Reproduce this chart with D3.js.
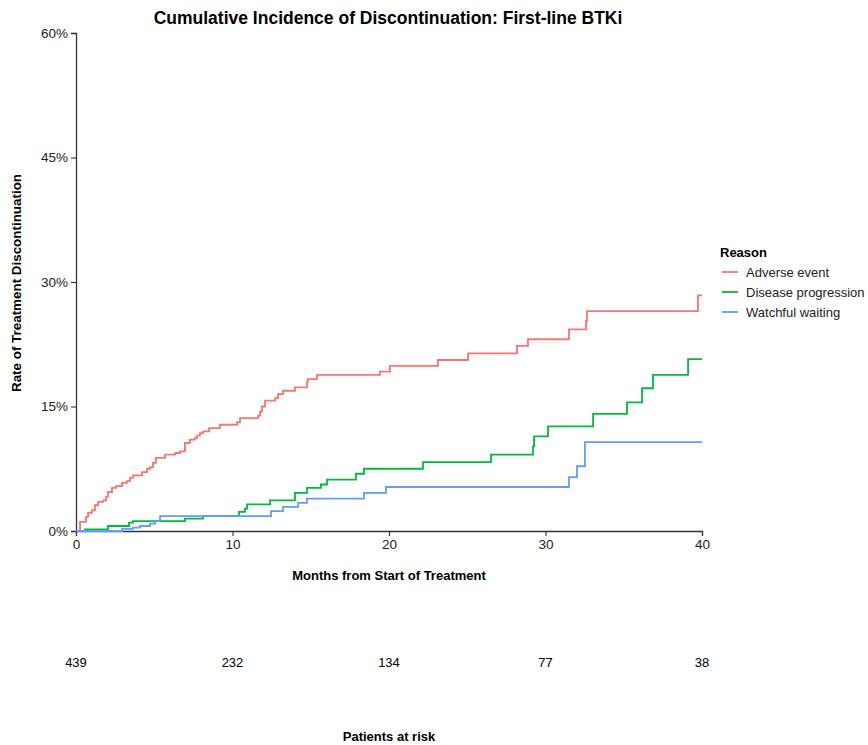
<!DOCTYPE html>
<html>
<head>
<meta charset="utf-8">
<script src="https://cdn.jsdelivr.net/npm/d3@7"></script>
<style>
  html, body { margin: 0; padding: 0; background: #fff; }
  svg { display: block; font-family: "Liberation Sans", Arial, sans-serif; }
</style>
</head>
<body>
<svg id="chart" width="868" height="745"></svg>
<script>
// ---------- data ----------
const chartTitle = "Cumulative Incidence of Discontinuation: First-line BTKi";
const reasons = ["Adverse event", "Disease progression", "Watchful waiting"];
const colors = ["#F8766D", "#00BA38", "#619CFF"];

const adverseMonths = [0, 0.26, 0.64, 0.77, 1.02, 1.21, 1.41, 1.73, 1.92, 2.04, 2.30, 2.56, 2.94, 3.26, 3.45, 3.64, 4.22, 4.54, 4.73, 4.92, 5.11, 5.69, 6.33, 6.65, 6.96, 7.28, 7.60, 7.73, 7.92, 8.12, 8.50, 9.20, 10.29, 10.48, 11.63, 11.76, 11.88, 12.08, 12.72, 12.91, 13.23, 13.99, 14.76, 14.82, 15.40, 19.42, 20.06, 23.13, 25.05, 28.18, 28.88, 31.50, 32.59, 32.65, 39.74, 40];
const adversePct = [0, 1.1, 1.7, 2.2, 2.5, 3.1, 3.5, 3.7, 4.1, 4.7, 5.2, 5.4, 5.8, 6.0, 6.4, 6.7, 7.1, 7.5, 7.7, 8.2, 8.8, 9.2, 9.4, 9.6, 10.6, 11.0, 11.2, 11.5, 11.8, 12.0, 12.4, 12.8, 13.1, 13.6, 13.9, 14.4, 15.0, 15.7, 16.0, 16.5, 16.9, 17.3, 18.0, 18.3, 18.8, 19.2, 19.9, 20.6, 21.4, 22.3, 23.1, 24.3, 25.3, 26.5, 28.4, 28.4];

const progressionMonths = [0, 0.58, 2.04, 3.39, 3.64, 6.96, 8.12, 10.42, 10.80, 10.93, 12.40, 13.99, 14.76, 15.65, 16.04, 17.89, 18.40, 22.17, 26.52, 29.20, 29.27, 30.16, 33.04, 35.21, 36.17, 36.87, 39.11, 40];
const progressionPct = [0, 0.2, 0.6, 1.0, 1.2, 1.5, 1.8, 2.3, 2.7, 3.2, 3.7, 4.6, 5.2, 5.6, 6.2, 6.9, 7.5, 8.3, 9.2, 10.2, 11.4, 12.6, 14.1, 15.5, 17.2, 18.8, 20.7, 20.7];

const waitingMonths = [0, 2.94, 3.64, 4.09, 4.73, 5.05, 5.37, 12.46, 13.23, 14.19, 14.76, 18.40, 19.81, 31.50, 32.01, 32.52, 40];
const waitingPct = [0, 0.25, 0.4, 0.6, 0.9, 1.2, 1.8, 2.4, 2.9, 3.4, 3.9, 4.6, 5.3, 6.5, 7.8, 10.7, 10.7];

const xTicks = [0, 10, 20, 30, 40];
const yTicks = [0, 15, 30, 45, 60];
const riskMonths = [0, 10, 20, 30, 40];
const riskCounts = [439, 232, 134, 77, 38];

// ---------- layout ----------
const svg = d3.select("#chart");
const plotLeft = 76, plotRight = 702, plotTop = 33, plotBottom = 531;

const x = d3.scaleLinear().domain([0, 40]).range([plotLeft, plotRight]);
const y = d3.scaleLinear().domain([0, 60]).range([plotBottom, plotTop]);

// title
svg.append("text")
  .attr("x", (plotLeft + plotRight) / 2 - 1).attr("y", 24)
  .attr("text-anchor", "middle")
  .attr("font-size", 17.5).attr("font-weight", "bold")
  .attr("fill", "#000")
  .text(chartTitle);

// axes
const yAxis = svg.append("g")
  .attr("transform", `translate(${plotLeft},0)`)
  .call(d3.axisLeft(y).tickValues(yTicks).tickFormat(d => d + "%").tickSize(5).tickPadding(3));
const xAxis = svg.append("g")
  .attr("transform", `translate(0,${plotBottom})`)
  .call(d3.axisBottom(x).tickValues(xTicks).tickSize(5).tickPadding(3));

[yAxis, xAxis].forEach(g => {
  g.select(".domain").attr("stroke", "#333").attr("stroke-width", 1.3);
  g.selectAll(".tick line").attr("stroke", "#333").attr("stroke-width", 1.1);
  g.selectAll(".tick text").attr("fill", "#222").attr("font-size", 13.5)
    .attr("font-family", "'Liberation Sans', Arial, sans-serif");
});

// curves
const series = [
  { months: adverseMonths, pct: adversePct },
  { months: progressionMonths, pct: progressionPct },
  { months: waitingMonths, pct: waitingPct }
];
const line = d3.line()
  .x(d => x(d[0])).y(d => y(d[1]))
  .curve(d3.curveStepAfter);

series.forEach((s, i) => {
  const pts = s.months.map((m, j) => [m, s.pct[j]]);
  svg.append("path")
    .datum(pts)
    .attr("fill", "none")
    .attr("stroke", colors[i])
    .attr("stroke-width", 1.8)
    .attr("d", line);
});

// axis titles
svg.append("text")
  .attr("x", (plotLeft + plotRight) / 2).attr("y", 580)
  .attr("text-anchor", "middle")
  .attr("font-size", 13).attr("font-weight", "bold")
  .text("Months from Start of Treatment");

svg.append("text")
  .attr("transform", `translate(21,${(plotTop + plotBottom) / 2 + 1}) rotate(-90)`)
  .attr("text-anchor", "middle")
  .attr("font-size", 13.4).attr("font-weight", "bold")
  .text("Rate of Treatment Discontinuation");

// legend
const lg = svg.append("g");
lg.append("text")
  .attr("x", 720).attr("y", 257)
  .attr("font-size", 13).attr("font-weight", "bold")
  .text("Reason");
reasons.forEach((r, i) => {
  const yy = 272 + i * 20;
  lg.append("line")
    .attr("x1", 722).attr("x2", 738)
    .attr("y1", yy).attr("y2", yy)
    .attr("stroke", colors[i]).attr("stroke-width", 1.8);
  lg.append("text")
    .attr("x", 746).attr("y", yy + 4.5)
    .attr("font-size", 13).attr("fill", "#222")
    .text(r);
});

// risk table
riskMonths.forEach((m, i) => {
  svg.append("text")
    .attr("x", x(m)).attr("y", 667)
    .attr("text-anchor", "middle")
    .attr("font-size", 13).attr("fill", "#000")
    .text(riskCounts[i]);
});
svg.append("text")
  .attr("x", (plotLeft + plotRight) / 2).attr("y", 741)
  .attr("text-anchor", "middle")
  .attr("font-size", 13).attr("font-weight", "bold")
  .text("Patients at risk");
</script>
</body>
</html>
